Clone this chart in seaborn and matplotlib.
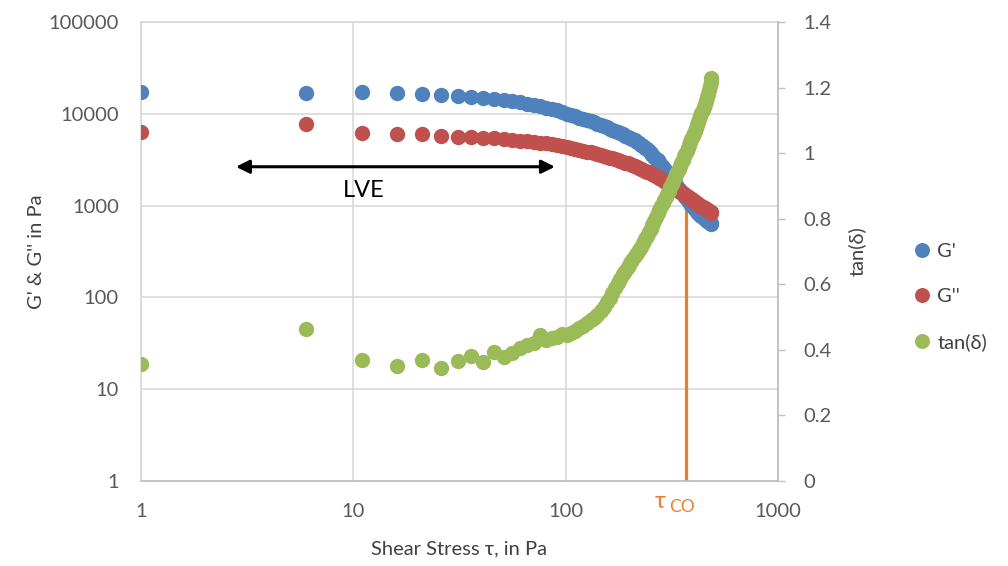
#### Amplitude sweep: G', G'' and tan(delta) vs shear stress ####

import numpy as np
import pandas as pd
import matplotlib
matplotlib.use('Agg')
import matplotlib.pyplot as plt
from matplotlib.lines import Line2D
import seaborn as sns

sns.set_theme(style = 'white')
plt.rcParams['font.family'] = ['Lato', 'DejaVu Sans']

# Data
shear_stress = [1, 6, 11, 16, 21, 26, 31, 36, 41, 46, 51, 56, 61, 66, 71, 76, 81, 86, 91, 96,
                101, 106, 111, 116, 121, 126, 131, 136, 141, 146, 151, 156, 161, 166, 171, 176,
                181, 186, 191, 196, 201, 206, 211, 216, 221, 226, 231, 236, 241, 246, 251, 256,
                261, 266, 271, 276, 281, 286, 291, 296, 301, 306, 311, 316, 321, 326, 331, 336,
                341, 346, 351, 356, 361, 366, 371, 376, 381, 386, 391, 396, 401, 406, 411, 416,
                421, 426, 431, 436, 441, 446, 451, 456, 461, 466, 471, 476, 481, 486]

g_storage = [17300, 17000, 17300, 16900, 16500, 16100, 15700, 15300, 14900, 14500,
             14100, 13700, 13300, 12900, 12500, 12100, 11700, 11300, 10900, 10400,
             10000, 9700, 9400, 9100, 8800, 8550, 8300, 8050, 7800, 7550,
             7300, 7100, 6900, 6700, 6500, 6320, 6150, 5980, 5800, 5650,
             5500, 5320, 5150, 4980, 4800, 4620, 4450, 4280, 4100, 3920,
             3750, 3580, 3400, 3250, 3100, 2950, 2800, 2650, 2500, 2360,
             2220, 2120, 2020, 1930, 1840, 1760, 1680, 1600, 1530, 1460,
             1400, 1340, 1290, 1240, 1190, 1145, 1100, 1060, 1020, 985,
             950, 920, 890, 862, 836, 812, 790, 770, 750, 732,
             716, 700, 686, 673, 662, 652, 644, 636]

g_loss = [6400, 7800, 6200, 6100, 6050, 5700, 5650, 5600, 5500, 5400,
          5300, 5200, 5100, 5000, 4950, 4850, 4750, 4650, 4550, 4450,
          4350, 4250, 4150, 4050, 3950, 3870, 3790, 3710, 3630, 3550,
          3480, 3410, 3340, 3270, 3200, 3130, 3060, 3000, 2940, 2880,
          2820, 2760, 2700, 2640, 2580, 2520, 2460, 2400, 2350, 2300,
          2240, 2190, 2140, 2090, 2040, 1990, 1940, 1890, 1840, 1800,
          1760, 1720, 1680, 1640, 1600, 1560, 1520, 1480, 1450, 1420,
          1390, 1360, 1330, 1300, 1270, 1245, 1220, 1195, 1170, 1145,
          1120, 1100, 1080, 1060, 1040, 1020, 1000, 980, 960, 945,
          930, 915, 900, 885, 870, 858, 845, 832]

tan_delta = [0.357, 0.464, 0.369, 0.351, 0.369, 0.345, 0.367, 0.381, 0.364, 0.394,
             0.379, 0.391, 0.405, 0.415, 0.420, 0.445, 0.430, 0.436, 0.440, 0.448,
             0.445, 0.452, 0.458, 0.466, 0.474, 0.482, 0.490, 0.498, 0.507, 0.518,
             0.530, 0.545, 0.558, 0.572, 0.588, 0.603, 0.617, 0.630, 0.642, 0.654,
             0.665, 0.675, 0.685, 0.695, 0.705, 0.715, 0.726, 0.737, 0.748, 0.758,
             0.768, 0.780, 0.792, 0.805, 0.817, 0.828, 0.838, 0.848, 0.858, 0.867,
             0.876, 0.886, 0.896, 0.906, 0.916, 0.926, 0.935, 0.944, 0.953, 0.962,
             0.971, 0.980, 0.990, 0.998, 1.006, 1.015, 1.024, 1.033, 1.042, 1.051,
             1.060, 1.069, 1.078, 1.087, 1.096, 1.105, 1.114, 1.123, 1.132, 1.141,
             1.150, 1.160, 1.170, 1.181, 1.192, 1.204, 1.216, 1.228]

x_ticks = [1, 10, 100, 1000]
y_ticks = [1, 10, 100, 1000, 10000, 100000]
tan_ticks = [0, 0.2, 0.4, 0.6, 0.8, 1.0, 1.2, 1.4]
tan_tick_labels = ['0', '0.2', '0.4', '0.6', '0.8', '1', '1.2', '1.4']

tau_co = 370          # crossover stress
tau_co_top = 920      # top of the marker line (left axis units)
lve_range = [2.8, 89]
lve_level = 2650

sweep = pd.DataFrame({'tau': shear_stress, 'G1': g_storage, 'G2': g_loss, 'tan': tan_delta})

# Colours (Excel 2010 palette)
blue, red, green, orange = '#4F81BD', '#C0504D', '#9BBB59', '#ED7D31'
grid_col, axis_col, text_col = '#D9D9D9', '#BFBFBF', '#595959'
fs = 14.5

fig = plt.figure(figsize = (10.08, 5.66), dpi = 100)
ax = fig.add_axes([141/1008, 85/566, 637/1008, 459/566])
ax2 = ax.twinx()

# Scatter series
sns.scatterplot(data = sweep, x = 'tau', y = 'G1', ax = ax, color = blue, s = 122,
                linewidth = 0, legend = False, zorder = 3)
sns.scatterplot(data = sweep, x = 'tau', y = 'G2', ax = ax, color = red, s = 122,
                linewidth = 0, legend = False, zorder = 4)
sns.scatterplot(data = sweep, x = 'tau', y = 'tan', ax = ax2, color = green, s = 122,
                linewidth = 0, legend = False, zorder = 3)

## Left / bottom axes
ax.set_xscale('log')
ax.set_yscale('log')
ax.set_xlim(1, 1000)
ax.set_ylim(1, 100000)
ax.set_xticks(x_ticks, [str(t) for t in x_ticks])
ax.set_yticks(y_ticks, [str(t) for t in y_ticks])
ax.minorticks_off()
ax.grid(True, color = grid_col, linewidth = 1.2)
ax.tick_params(axis = 'both', length = 0, labelsize = fs, labelcolor = text_col)
ax.tick_params(axis = 'x', pad = 16)
ax.tick_params(axis = 'y', pad = 16)
for side in ['left', 'top']:
    ax.spines[side].set_color(grid_col)
ax.spines['bottom'].set_color(axis_col)
ax.spines['right'].set_visible(False)

ax.set_xlabel('Shear Stress τ, in Pa', fontsize = fs, color = '#404040')
ax.set_ylabel("G' & G'' in Pa", fontsize = fs, color = '#404040')
ax.xaxis.set_label_coords(0.5, -0.13)
ax.yaxis.set_label_coords((45 - 141)/637, 0.5)

## Right axis
ax2.set_ylim(0, 1.4)
ax2.set_yticks(tan_ticks, tan_tick_labels)
ax2.tick_params(axis = 'y', length = 5, width = 1, color = axis_col, direction = 'out',
                labelsize = fs, labelcolor = text_col, pad = 13)
ax2.set_ylabel('tan(δ)', fontsize = fs, color = '#404040')
ax2.yaxis.set_label_coords((848 - 141)/637, 0.5)
for side in ['left', 'top', 'bottom']:
    ax2.spines[side].set_visible(False)
ax2.spines['right'].set_color(axis_col)
ax2.grid(False)

# Crossover marker
ax.plot([tau_co, tau_co], [1, tau_co_top], color = orange, linewidth = 2.3, zorder = 2)
ax.annotate('τ', xy = (tau_co, 0), xycoords = ('data', 'axes fraction'),
            xytext = (-18.5, -15), textcoords = 'offset points', ha = 'center', va = 'center',
            fontsize = 17, color = orange, annotation_clip = False)
ax.annotate('CO', xy = (tau_co, 0), xycoords = ('data', 'axes fraction'),
            xytext = (-3, -19), textcoords = 'offset points', ha = 'center', va = 'center',
            fontsize = 12.5, color = orange, annotation_clip = False)

# LVE arrow
ax.annotate('', xy = (lve_range[0], lve_level), xytext = (lve_range[1], lve_level),
            arrowprops = dict(arrowstyle = '<|-|>', color = 'black', lw = 2.2,
                              mutation_scale = 20, shrinkA = 0, shrinkB = 0))
ax.text(11.2, 1443, 'LVE', fontsize = 17, color = 'black', ha = 'center', va = 'center')

# Legend
handles = [Line2D([], [], marker = 'o', linestyle = 'none', markersize = 10.8,
                  markerfacecolor = c, markeredgewidth = 0) for c in [blue, red, green]]
fig.legend(handles, ["G'", "G''", 'tan(δ)'], loc = 'center left',
           bbox_to_anchor = (914/1008, 0.475), frameon = False, fontsize = fs,
           handlelength = 0.8, handletextpad = 0.35, labelspacing = 1.4,
           borderpad = 0, borderaxespad = 0, labelcolor = '#404040')

fig.savefig('out.png', dpi = 100)
